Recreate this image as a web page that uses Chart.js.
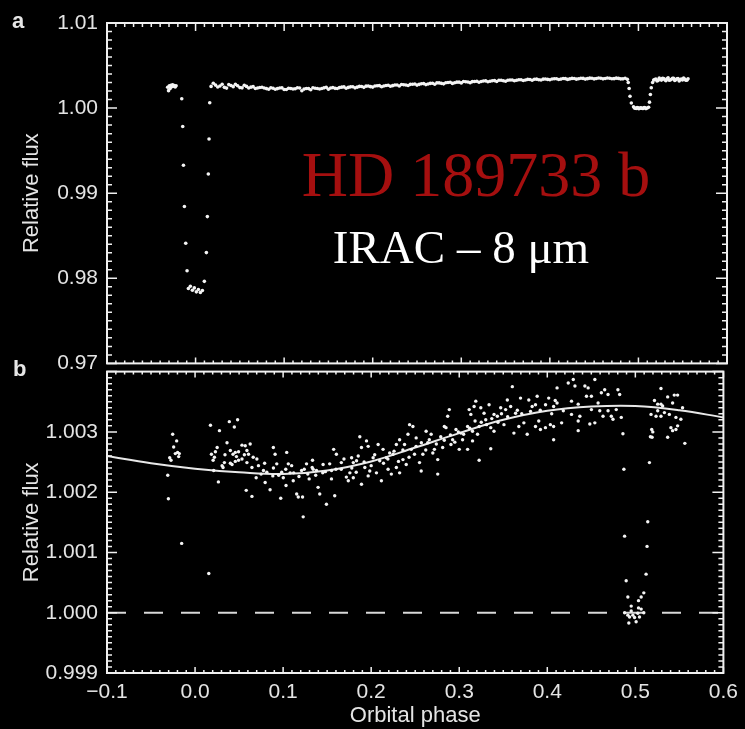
<!DOCTYPE html>
<html>
<head>
<meta charset="utf-8">
<script src="https://cdn.jsdelivr.net/npm/chart.js@4.4.0/dist/chart.umd.min.js"></script>
<style>
  body { margin: 0; background: #000; width: 745px; height: 729px; overflow: hidden; position: relative; }
  canvas { position: absolute; left: 0; }
  #panelA { top: 0; }
  #panelB { top: 350px; }
  .tag { position: absolute; color: #e6e6e6; font: bold 22px/22px "Liberation Sans", Arial, sans-serif; }
  .big { position: absolute; left: 0; width: 952px; text-align: center; font-family: "Liberation Serif", "DejaVu Serif", serif; white-space: nowrap; }
</style>
</head>
<body>
<canvas id="panelA" width="745" height="385"></canvas>
<canvas id="panelB" width="745" height="379"></canvas>
<div class="tag" style="left:12px;top:10px">a</div>
<div class="tag" style="left:13px;top:358px">b</div>
<div class="big" style="top:143px;font-size:64px;line-height:64px;color:#a50f0f">HD 189733 b</div>
<div class="big" style="top:224px;left:-15px;font-size:47px;line-height:47px;color:#fff">IRAC – 8 μm</div>
<script>
// ticks
const xTicks = [-0.1, 0.0, 0.1, 0.2, 0.3, 0.4, 0.5, 0.6];
const yTicksA = [0.97, 0.98, 0.99, 1.00, 1.01];
const yTicksB = [0.999, 1.000, 1.001, 1.002, 1.003];

// panel a : phase / relative flux (transit + eclipse)
const phaseA = [
  -0.0315, -0.0305, -0.0296, -0.0287, -0.0278, -0.0268, -0.0259, -0.0250, -0.0240, -0.0230, -0.0220,
  -0.0156, -0.0145, -0.0137, -0.0126, -0.0111, -0.0096,
  -0.0081, -0.0059, -0.0036, -0.0014, 0.0009, 0.0032, 0.0054, 0.0077, 0.0099,
  0.0122, 0.0133, 0.0144, 0.0152, 0.0160,
  0.0175, 0.020, 0.025, 0.030, 0.035, 0.040, 0.045, 0.050, 0.055, 0.060, 0.065, 0.070, 0.075, 0.080,
  0.085, 0.090, 0.095, 0.100, 0.105, 0.110, 0.115, 0.120, 0.125, 0.130, 0.135, 0.140, 0.145, 0.150,
  0.155, 0.160, 0.165, 0.170, 0.175, 0.180, 0.185, 0.190, 0.195, 0.200, 0.205, 0.210, 0.215, 0.220,
  0.225, 0.230, 0.235, 0.240, 0.245, 0.250, 0.255, 0.260, 0.265, 0.270, 0.275, 0.280, 0.285, 0.290,
  0.295, 0.300, 0.305, 0.310, 0.315, 0.320, 0.325, 0.330, 0.335, 0.340, 0.345, 0.350, 0.355, 0.360,
  0.365, 0.370, 0.375, 0.380, 0.385, 0.390, 0.395, 0.400, 0.405, 0.410, 0.415, 0.420, 0.425, 0.430,
  0.435, 0.440, 0.445, 0.450, 0.455, 0.460, 0.465, 0.470, 0.475, 0.480, 0.485,
  0.4875, 0.4885, 0.4895, 0.4905, 0.4920,
  0.4945, 0.4965, 0.4985, 0.5005, 0.5025, 0.5045, 0.5065, 0.5085, 0.5100,
  0.5115, 0.5125, 0.5135, 0.5145,
  0.5160, 0.5185, 0.5210, 0.5235, 0.5260, 0.5285, 0.5310, 0.5335, 0.5360, 0.5385, 0.5410, 0.5435,
  0.5460, 0.5485, 0.5510, 0.5535, 0.5560
];
const fluxA = [
  1.00245, 1.00205, 1.00262, 1.00230, 1.00268, 1.00251, 1.00274, 1.00258, 1.00266, 1.00249, 1.00262,
  1.00110, 0.99783, 0.99329, 0.98844, 0.98411, 0.98088,
  0.97880, 0.97907, 0.97860, 0.97887, 0.97841, 0.97869, 0.97834, 0.97857, 0.97964,
  0.98302, 0.98725, 0.99225, 0.99637, 1.00063,
  1.00255, 1.00292, 1.00248, 1.00281, 1.00235, 1.00266, 1.00279, 1.00241, 1.00268, 1.00237, 1.00252, 1.00236, 1.00245, 1.00229,
  1.00240, 1.00222, 1.00236, 1.00218, 1.00233, 1.00224, 1.00239, 1.00204, 1.00230, 1.00216, 1.00234, 1.00225, 1.00238, 1.00222,
  1.00241, 1.00230, 1.00246, 1.00233, 1.00250, 1.00238, 1.00255, 1.00244, 1.00259, 1.00247, 1.00262, 1.00251, 1.00266, 1.00256,
  1.00272, 1.00260, 1.00275, 1.00266, 1.00281, 1.00270, 1.00286, 1.00276, 1.00290, 1.00281, 1.00296, 1.00285, 1.00301, 1.00290,
  1.00305, 1.00296, 1.00310, 1.00299, 1.00313, 1.00304, 1.00318, 1.00309, 1.00322, 1.00313, 1.00327, 1.00316, 1.00330, 1.00321,
  1.00334, 1.00324, 1.00337, 1.00328, 1.00340, 1.00330, 1.00342, 1.00333, 1.00345, 1.00336, 1.00347, 1.00337, 1.00349, 1.00340,
  1.00351, 1.00341, 1.00352, 1.00343, 1.00353, 1.00344, 1.00354, 1.00345, 1.00352, 1.00343, 1.00350, 1.00338,
  1.00300, 1.00230, 1.00140, 1.00060, 1.00015,
  0.99998, 1.00005, 0.99992, 1.00003, 0.99995, 1.00006, 0.99994, 1.00002, 1.00010,
  1.00070, 1.00160, 1.00240, 1.00300,
  1.00335, 1.00318, 1.00352, 1.00329, 1.00347, 1.00322, 1.00356, 1.00331, 1.00349, 1.00325, 1.00344, 1.00319,
  1.00340, 1.00352, 1.00327, 1.00345, 1.00318
];
// panel a : the points in between (the band is nearly continuous)
const phaseA2 = [
  0.0225, 0.0275, 0.0325, 0.0375, 0.0425, 0.0475, 0.0525, 0.0575, 0.0625, 0.0675, 0.0725, 0.0775, 0.0825, 0.0875,
  0.0925, 0.0975, 0.1025, 0.1075, 0.1125, 0.1175, 0.1225, 0.1275, 0.1325, 0.1375, 0.1425, 0.1475, 0.1525, 0.1575,
  0.1625, 0.1675, 0.1725, 0.1775, 0.1825, 0.1875, 0.1925, 0.1975, 0.2025, 0.2075, 0.2125, 0.2175, 0.2225, 0.2275,
  0.2325, 0.2375, 0.2425, 0.2475, 0.2525, 0.2575, 0.2625, 0.2675, 0.2725, 0.2775, 0.2825, 0.2875, 0.2925, 0.2975,
  0.3025, 0.3075, 0.3125, 0.3175, 0.3225, 0.3275, 0.3325, 0.3375, 0.3425, 0.3475, 0.3525, 0.3575, 0.3625, 0.3675,
  0.3725, 0.3775, 0.3825, 0.3875, 0.3925, 0.3975, 0.4025, 0.4075, 0.4125, 0.4175, 0.4225, 0.4275, 0.4325, 0.4375,
  0.4425, 0.4475, 0.4525, 0.4575, 0.4625, 0.4675, 0.4725, 0.4775, 0.4825,
  0.4955, 0.4975, 0.4995, 0.5015, 0.5035, 0.5055, 0.5075,
  0.5172, 0.5197, 0.5222, 0.5247, 0.5272, 0.5297, 0.5322, 0.5347, 0.5372, 0.5397, 0.5422, 0.5447, 0.5472, 0.5497,
  0.5522, 0.5547
];
const fluxA2 = [
  1.00270, 1.00259, 1.00244, 1.00276, 1.00252, 1.00262, 1.00238, 1.00255, 1.00246, 1.00231, 1.00242, 1.00236, 1.00221, 1.00233,
  1.00229, 1.00238, 1.00219, 1.00231, 1.00227, 1.00236, 1.00223, 1.00229, 1.00240, 1.00231, 1.00230, 1.00244, 1.00236, 1.00232,
  1.00241, 1.00249, 1.00243, 1.00251, 1.00246, 1.00254, 1.00258, 1.00252, 1.00259, 1.00264, 1.00259, 1.00268, 1.00264, 1.00271,
  1.00278, 1.00272, 1.00279, 1.00284, 1.00279, 1.00288, 1.00284, 1.00292, 1.00297, 1.00291, 1.00298, 1.00303, 1.00298, 1.00305,
  1.00312, 1.00306, 1.00311, 1.00316, 1.00313, 1.00320, 1.00316, 1.00323, 1.00328, 1.00322, 1.00327, 1.00331, 1.00328, 1.00333,
  1.00330, 1.00336, 1.00339, 1.00334, 1.00340, 1.00337, 1.00342, 1.00345, 1.00341, 1.00346, 1.00343, 1.00348, 1.00345, 1.00349,
  1.00346, 1.00350, 1.00347, 1.00351, 1.00348, 1.00350, 1.00346, 1.00349, 1.00344,
  1.00001, 0.99996, 1.00004, 0.99999, 1.00002, 0.99997, 1.00004,
  1.00330, 1.00341, 1.00325, 1.00338, 1.00350, 1.00334, 1.00343, 1.00328, 1.00339, 1.00351, 1.00333, 1.00346, 1.00336, 1.00330,
  1.00342, 1.00328
];

// panel b : same light curve, magnified
const phaseB = [
  -0.0254, -0.0209, -0.0243, -0.0198, -0.0224, -0.0179, -0.0186, -0.0288, -0.0273, -0.0310, -0.0303, -0.0152, 0.0156,
  0.0175, 0.0277, 0.0389, 0.0483, 0.0446, 0.0251, 0.0231, 0.0186, 0.0205, 0.0212, 0.0265, 0.0363, 0.0333, 0.0318,
  0.0401, 0.0431, 0.0457, 0.0494, 0.0533, 0.0570, 0.0626, 0.0401, 0.0457, 0.0494, 0.0533, 0.0420, 0.0589, 0.0607,
  0.0307, 0.0589, 0.0646, 0.0581, 0.0646, 0.0702, 0.0720, 0.0694, 0.0777, 0.0815, 0.0796, 0.0852, 0.0889, 0.0909,
  0.0883, 0.0928, 0.0973, 0.1041, 0.1059, 0.1033, 0.1097, 0.1115, 0.1154, 0.1172, 0.1221, 0.1228, 0.0984, 0.1002,
  0.1210, 0.1266, 0.1334, 0.1341, 0.1397, 0.1416, 0.1454, 0.1492, 0.1529, 0.1549, 0.1574, 0.1605, 0.1661, 0.1691,
  0.1718, 0.1586, 0.1379, 0.1296, 0.075, 0.095, 0.112, 0.118, 0.128, 0.137, 0.148, 0.160,
  0.1871, 0.1890, 0.1947, 0.1966, 0.1778, 0.1834, 0.1758, 0.1797, 0.1740, 0.1890, 0.1928, 0.1984, 0.1966, 0.2060,
  0.2079, 0.2135, 0.2116, 0.2173, 0.2192, 0.2229, 0.2286, 0.2323, 0.2379, 0.2436, 0.2474, 0.2418, 0.2511, 0.2492,
  0.2549, 0.2568, 0.2398, 0.2286, 0.2323, 0.2210, 0.2624, 0.2681, 0.2643, 0.2718, 0.2700, 0.2756, 0.2756, 0.2831,
  0.2850, 0.2887, 0.2869, 0.2925, 0.2906, 0.2963, 0.3000, 0.3038, 0.3019, 0.2812, 0.2587, 0.1797, 0.1853, 0.2022,
  0.2097, 0.2248, 0.2361, 0.2455,
  0.3603, 0.3113, 0.3169, 0.3188, 0.3132, 0.3245, 0.3282, 0.3339, 0.3301, 0.3395, 0.3433, 0.3471, 0.3527, 0.3546,
  0.3584, 0.3640, 0.3696, 0.3790, 0.3828, 0.3885, 0.3866, 0.4016, 0.4072, 0.4111, 0.4111,
  0.3095, 0.3151, 0.3208, 0.3226, 0.3358, 0.3395, 0.3508, 0.3621, 0.3677, 0.3734, 0.3772, 0.3866, 0.3903, 0.3922,
  0.3979, 0.4035, 0.4072, 0.4072, 0.3358, 0.3226, 0.3095, 0.3151,
  0.4238, 0.4295, 0.4314, 0.4427, 0.4464, 0.4540, 0.4501, 0.4614, 0.4652, 0.4690, 0.4802, 0.4822, 0.4275, 0.4351,
  0.4445, 0.4577, 0.4182, 0.4163, 0.4275, 0.4351, 0.4370, 0.4501, 0.4483, 0.4540, 0.4596, 0.4633, 0.4690, 0.4727,
  0.4746, 0.4783, 0.4840, 0.4351, 0.4859,
  0.4870, 0.4878, 0.4896, 0.4915, 0.4953,
  0.4878, 0.4915, 0.4934, 0.4972, 0.4991, 0.5028, 0.5047, 0.5066, 0.5096, 0.4926, 0.5009, 0.5036, 0.4953,
  0.5036, 0.5066, 0.5096, 0.5122, 0.5133, 0.5141, 0.5160, 0.5171,
  0.5186, 0.5198, 0.5178, 0.5217, 0.5254, 0.5291, 0.5367, 0.5442, 0.5480, 0.5423, 0.5291, 0.5310, 0.5254, 0.5330,
  0.5386, 0.5461, 0.5517, 0.5536, 0.5480, 0.5235, 0.5291, 0.5404, 0.5423, 0.5461, 0.5367, 0.5190, 0.5562,
  0.178, 0.183, 0.192, 0.200, 0.204, 0.214, 0.219, 0.226, 0.231, 0.236, 0.243, 0.251, 0.257, 0.262,
  0.266, 0.274, 0.279, 0.283, 0.290, 0.295, 0.299, 0.305, 0.312, 0.318, 0.325, 0.331, 0.337, 0.344,
  0.348, 0.355, 0.366, 0.371, 0.381, 0.392, 0.398, 0.405, 0.409, 0.022, 0.034, 0.047, 0.056, 0.066,
  0.079, 0.089, 0.103, 0.108, 0.124, 0.133, 0.145, 0.155, 0.166
];
const fluxB = [
  1.00296, 1.00285, 1.00275, 1.00266, 1.00264, 1.00264, 1.00259, 1.00257, 1.00253, 1.00228, 1.00189, 1.00115, 1.00065,
  1.00311, 1.00302, 1.00317, 1.00320, 1.00308, 1.00274, 1.00267, 1.00263, 1.00253, 1.00236, 1.00217, 1.00282, 1.00249, 1.00241,
  1.00269, 1.00263, 1.00266, 1.00267, 1.00278, 1.00277, 1.00280, 1.00248, 1.00251, 1.00253, 1.00255, 1.00246, 1.00269, 1.00263,
  1.00244, 1.00249, 1.00241, 1.00203, 1.00193, 1.00255, 1.00244, 1.00224, 1.00236, 1.00233, 1.00216, 1.00204, 1.00274, 1.00263,
  1.00227, 1.00247, 1.00190, 1.00266, 1.00247, 1.00211, 1.00244, 1.00219, 1.00197, 1.00192, 1.00192, 1.00159, 1.00233, 1.00224,
  1.00236, 1.00247, 1.00253, 1.00238, 1.00208, 1.00197, 1.00246, 1.00180, 1.00247, 1.00222, 1.00271, 1.00263, 1.00249, 1.00255,
  1.00225, 1.00194, 1.00236, 1.00222, 1.00230, 1.00228, 1.00232, 1.00226, 1.00230, 1.00228, 1.00234, 1.00238,
  1.00292, 1.00274, 1.00285, 1.00276, 1.00257, 1.00252, 1.00232, 1.00224, 1.00219, 1.00213, 1.00241, 1.00235, 1.00227, 1.00232,
  1.00279, 1.00271, 1.00219, 1.00257, 1.00238, 1.00230, 1.00279, 1.00287, 1.00279, 1.00312, 1.00309, 1.00296, 1.00290, 1.00263,
  1.00249, 1.00235, 1.00246, 1.00241, 1.00232, 1.00265, 1.00301, 1.00296, 1.00282, 1.00271, 1.00265, 1.00254, 1.00230, 1.00309,
  1.00307, 1.00337, 1.00326, 1.00287, 1.00279, 1.00304, 1.00271, 1.00287, 1.00298, 1.00274, 1.00263, 1.00249, 1.00260, 1.00257,
  1.00252, 1.00263, 1.00254, 1.00271,
  1.00375, 1.00337, 1.00342, 1.00351, 1.00329, 1.00340, 1.00331, 1.00345, 1.00320, 1.00329, 1.00326, 1.00340, 1.00337, 1.00353,
  1.00342, 1.00331, 1.00356, 1.00353, 1.00342, 1.00359, 1.00345, 1.00356, 1.00342, 1.00348, 1.00373,
  1.00309, 1.00301, 1.00296, 1.00309, 1.00307, 1.00301, 1.00312, 1.00298, 1.00309, 1.00315, 1.00296, 1.00309, 1.00318, 1.00304,
  1.00307, 1.00312, 1.00309, 1.00287, 1.00272, 1.00253, 1.00271, 1.00285,
  1.00381, 1.00387, 1.00376, 1.00376, 1.00373, 1.00387, 1.00359, 1.00365, 1.00370, 1.00362, 1.00370, 1.00362, 1.00351, 1.00346,
  1.00359, 1.00348, 1.00335, 1.00315, 1.00329, 1.00318, 1.00326, 1.00337, 1.00313, 1.00315, 1.00335, 1.00326, 1.00335, 1.00326,
  1.00321, 1.00337, 1.00324, 1.00302, 1.00297,
  1.00238, 1.00127, 1.00053, 1.00026, 1.00011,
  1.00000, 0.99996, 0.99993, 0.99996, 0.99992, 0.99999, 0.99993, 1.00006, 1.00000, 0.99983, 0.99985, 1.00008, 1.00003,
  1.00020, 1.00026, 1.00033, 1.00064, 1.00110, 1.00151, 1.00249, 1.00292,
  1.00304, 1.00300, 1.00329, 1.00352, 1.00346, 1.00372, 1.00358, 1.00361, 1.00361, 1.00348, 1.00346, 1.00343, 1.00335, 1.00332,
  1.00329, 1.00324, 1.00321, 1.00340, 1.00310, 1.00326, 1.00326, 1.00307, 1.00302, 1.00304, 1.00291, 1.00291, 1.00281,
  1.00240, 1.00233, 1.00250, 1.00244, 1.00262, 1.00248, 1.00255, 1.00268, 1.00251, 1.00270, 1.00258, 1.00276, 1.00282, 1.00270,
  1.00287, 1.00280, 1.00292, 1.00286, 1.00295, 1.00283, 1.00300, 1.00296, 1.00306, 1.00318, 1.00316, 1.00312, 1.00322, 1.00316,
  1.00330, 1.00325, 1.00336, 1.00330, 1.00334, 1.00336, 1.00345, 1.00330, 1.00352, 1.00258, 1.00262, 1.00259, 1.00262, 1.00258,
  1.00248, 1.00240, 1.00238, 1.00232, 1.00238, 1.00241, 1.00232, 1.00236, 1.00238
];

// phase-curve model (solid line) and stellar-only level (dashed)
const modelPhase = [-0.10, -0.05, 0.00, 0.05, 0.10, 0.15, 0.20, 0.25, 0.30, 0.35, 0.40, 0.45, 0.50, 0.55, 0.60];
const modelFlux = [1.00260, 1.00248, 1.00239, 1.00233, 1.00230, 1.00236, 1.00251, 1.00274, 1.00298, 1.00320, 1.00335, 1.00342, 1.00343, 1.00336, 1.00324];
const starPhase = [-0.1, 0.6];
const starFlux = [1.000, 1.000];

const pts = (xs, ys) => xs.map((x, i) => ({ x: x, y: ys[i] }));
const ink = '#e4e4e4';
const sans = '"Liberation Sans", Arial, Helvetica, sans-serif';

// frame + inward ticks on all four sides
const framePlugin = {
  id: 'frame',
  afterDatasetsDraw(chart, args, o) {
    const { ctx, chartArea: a, scales: { x, y } } = chart;
    ctx.save();
    ctx.strokeStyle = '#f0f0f0';
    ctx.lineWidth = 1.5;
    ctx.beginPath();
    for (let i = 0; i <= 70; i++) {
      const px = x.getPixelForValue(-0.1 + i * 0.01);
      const major = i % 10 === 0;
      const lb = major ? o.xBotMajor : o.xBotMinor;
      const lt = major ? o.xTopMajor : o.xTopMinor;
      ctx.moveTo(px, a.bottom); ctx.lineTo(px, a.bottom - lb);
      ctx.moveTo(px, a.top); ctx.lineTo(px, a.top + lt);
    }
    const n = Math.round((y.max - y.min) / o.yStep);
    for (let i = 0; i <= n; i++) {
      const py = y.getPixelForValue(y.min + i * o.yStep);
      const major = i % 10 === 0;
      ctx.moveTo(a.left, py); ctx.lineTo(a.left + (major ? 10 : 5), py);
      ctx.moveTo(a.right, py); ctx.lineTo(a.right - (major ? 11 : 5), py);
    }
    ctx.stroke();
    ctx.lineWidth = 2;
    ctx.strokeRect(a.left, a.top, a.right - a.left, a.bottom - a.top);
    ctx.restore();
  }
};

function yAxis(min, max, vals, digits) {
  return {
    type: 'linear', min: min, max: max,
    afterBuildTicks: s => { s.ticks = vals.map(v => ({ value: v })); },
    afterFit: s => { s.width = 107; },
    grid: { display: false, drawTicks: false }, border: { display: false },
    ticks: { color: ink, autoSkip: false, padding: 9, font: { family: sans, size: 21 },
             callback: v => v.toFixed(digits) },
    title: { display: true, text: 'Relative flux', color: ink, font: { family: sans, size: 22 },
             padding: { top: 19, bottom: 0 } }
  };
}

const common = {
  responsive: false, animation: false, events: [],
  plugins: { legend: { display: false }, tooltip: { enabled: false } }
};

new Chart(document.getElementById('panelA'), {
  type: 'scatter',
  data: { datasets: [{
    data: pts(phaseA, fluxA).concat(pts(phaseA2, fluxA2)),
    pointRadius: 1.8, pointBackgroundColor: '#f4f4f4', pointBorderWidth: 0
  }] },
  options: Object.assign({}, common, {
    layout: { padding: { top: 23, right: 18, bottom: 15, left: 0 } },
    scales: {
      x: { type: 'linear', min: -0.1, max: 0.6, display: false },
      y: yAxis(0.97, 1.01, yTicksA, 2)
    },
    plugins: Object.assign({}, common.plugins, {
      frame: { yStep: 0.001, xTopMajor: 8, xTopMinor: 4, xBotMajor: 6, xBotMinor: 3 }
    })
  }),
  plugins: [framePlugin]
});

new Chart(document.getElementById('panelB'), {
  type: 'scatter',
  data: { datasets: [
    { data: pts(phaseB, fluxB), pointRadius: 1.7, pointBackgroundColor: '#f4f4f4', pointBorderWidth: 0 },
    { data: pts(modelPhase, modelFlux), showLine: true, tension: 0.4, borderColor: '#e8e8e8',
      borderWidth: 2, pointRadius: 0 },
    { data: pts(starPhase, starFlux), showLine: true, borderColor: '#d8d8d8', borderWidth: 2,
      borderDash: [19, 18], pointRadius: 0 }
  ] },
  options: Object.assign({}, common, {
    layout: { padding: { top: 20, right: 18, bottom: 0, left: 0 } },
    scales: {
      x: {
        type: 'linear', min: -0.1, max: 0.6,
        afterBuildTicks: s => { s.ticks = xTicks.map(v => ({ value: v })); },
        afterFit: s => { s.height = 56; },
        grid: { display: false, drawTicks: false }, border: { display: false },
        ticks: { color: ink, autoSkip: false, maxRotation: 0, padding: 7, font: { family: sans, size: 21 },
                 callback: v => (v < -1e-9 ? '\u2212' + Math.abs(v).toFixed(1) : Math.abs(v).toFixed(1)) },
        title: { display: true, text: 'Orbital phase', color: ink, font: { family: sans, size: 22 },
                 padding: { top: 0, bottom: 0 } }
      },
      y: yAxis(0.999, 1.004, yTicksB, 3)
    },
    plugins: Object.assign({}, common.plugins, {
      frame: { yStep: 0.0001, xTopMajor: 6, xTopMinor: 3, xBotMajor: 6, xBotMinor: 3 }
    })
  }),
  plugins: [framePlugin]
});
</script>
</body>
</html>
